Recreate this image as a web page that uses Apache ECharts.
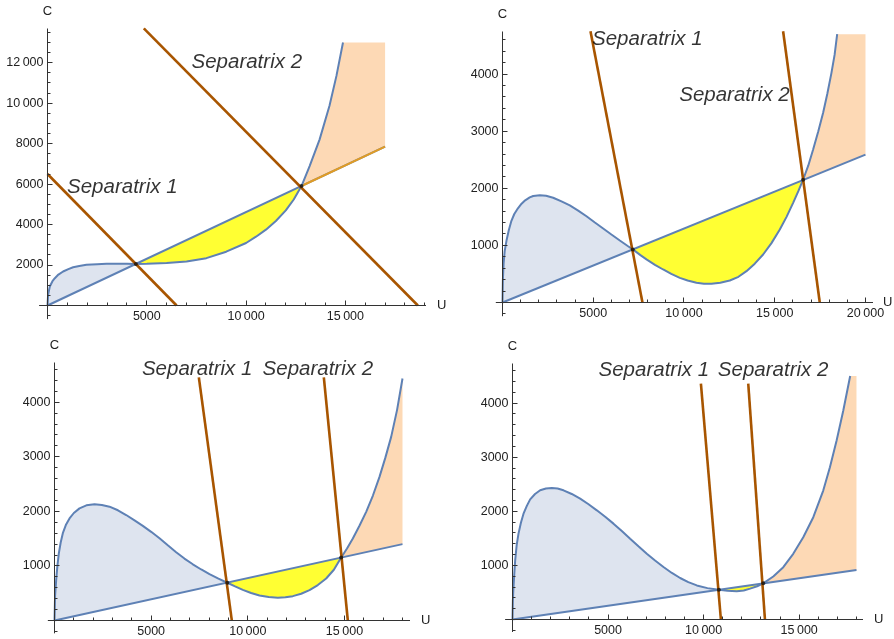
<!DOCTYPE html>
<html><head><meta charset="utf-8">
<script src="https://cdn.jsdelivr.net/npm/echarts@6/dist/echarts.min.js"></script>
<style>html,body{margin:0;padding:0;background:#fff}#c{width:894px;height:639px}</style>
</head><body><div id="c"></div>
<script>
// ---------- Panel 1 (top-left) ----------
const p1U = [0,30,116,250,370,550,785,1050,1290,1600,1960,2500,2970,3500,4000,4450,5000,6000,7000,8000,9000,10000,10500,11000,11500,12000,12400,12790,13200,13700,14200,14550,14880];
const p1C = [0,530,940,1200,1350,1530,1680,1800,1890,1950,2010,2045,2060,2062,2060,2055,2062,2100,2180,2340,2660,3090,3400,3750,4180,4700,5240,5906,6890,8200,9870,11350,13000];
const p1LineU = [0, 17000];
const p1LineC = [0, 7850];
const p1Sep1U = [0, 6500];
const p1Sep1C = [6500, 0];
const p1Sep2U = [4850, 18650];
const p1Sep2C = [13700, 0];
const p1CrossU = [4450, 12790];
const p1CrossC = [2055, 5906];
const p1Cap = 13000;
const p1XTicks = [5000, 10000, 15000];
const p1YTicks = [2000, 4000, 6000, 8000, 10000, 12000];
const p1XMinorStep = 1000;
const p1YMinorStep = 500;
const p1NoteText = ['Separatrix 1', 'Separatrix 2'];
const p1NoteU = [3766, 10035];
const p1NoteC = [5853, 12032];

// ---------- Panel 2 (top-right) ----------
const p2U = [0,20,60,120,230,350,480,650,850,1050,1250,1500,1690,2057,2400,2791,3250,3709,4170,4627,5090,5546,6000,6464,6900,7180,7600,7933,8400,8851,9300,9770,10200,10688,11100,11514,12000,12524,13000,13442,13900,14360,14820,15279,15650,16013,16300,16564,16850,17115,17400,17666,17900,18125,18300,18440];
const p2C = [0,380,680,900,1100,1270,1420,1550,1650,1730,1790,1840,1865,1880,1868,1835,1770,1700,1610,1510,1400,1295,1190,1085,990,930,830,755,660,578,500,432,385,345,330,327,345,385,450,549,680,841,1040,1278,1500,1745,1950,2150,2400,2680,3000,3322,3660,4022,4340,4700];
const p2LineU = [0, 20000];
const p2LineC = [0, 2590];
const p2Sep1U = [4848, 7712];
const p2Sep1C = [4751, 0];
const p2Sep2U = [15461, 17481];
const p2Sep2C = [4751, 0];
const p2CrossU = [7180, 16564];
const p2CrossC = [930, 2150];
const p2Cap = 4700;
const p2XTicks = [5000, 10000, 15000, 20000];
const p2YTicks = [1000, 2000, 3000, 4000];
const p2XMinorStep = 1000;
const p2YMinorStep = 200;
const p2NoteText = ['Separatrix 1', 'Separatrix 2'];
const p2NoteU = [7978, 12782];
const p2NoteC = [4611, 3620];

// ---------- Panel 3 (bottom-left) ----------
const p3U = [0,30,86,150,224,320,431,600,776,1000,1293,1650,2069,2450,2845,3280,3707,4140,4569,5000,5431,5860,6293,6720,7155,7590,8017,8480,8940,9340,9741,10170,10603,11080,11552,11940,12328,12760,13190,13620,14052,14450,14828,15130,15431,15780,16121,16470,16810,17110,17414,17720,18000];
const p3C = [0,450,740,1000,1230,1430,1600,1760,1870,1970,2055,2110,2130,2115,2086,2020,1933,1835,1735,1625,1506,1378,1252,1135,1030,935,850,768,692,625,562,503,458,430,418,425,446,490,556,650,770,930,1155,1320,1503,1740,1991,2290,2632,2980,3365,3860,4434];
const p3LineU = [0, 18000];
const p3LineC = [0, 1400];
const p3Sep1U = [7466, 9172];
const p3Sep1C = [4456, 0];
const p3Sep2U = [13931, 15172];
const p3Sep2C = [4456, 0];
const p3CrossU = [8940, 14828];
const p3CrossC = [692, 1155];
const p3Cap = 4500;
const p3XTicks = [5000, 10000, 15000];
const p3YTicks = [1000, 2000, 3000, 4000];
const p3XMinorStep = 1000;
const p3YMinorStep = 200;
const p3NoteText = ['Separatrix 1', 'Separatrix 2'];
const p3NoteU = [7381, 13620];
const p3NoteC = [4609, 4609];

// ---------- Panel 4 (bottom-right) ----------
const p4U = [0,20,52,95,140,220,314,440,576,750,924,1180,1447,1750,2058,2360,2668,3100,3540,3980,4412,4850,5284,5720,6156,6590,7028,7460,7900,8340,8772,9200,9644,10200,10800,11250,11736,12100,12434,12800,13120,13645,14170,14690,15215,15740,16260,16610,16960,17310,17670];
const p4C = [0,350,600,850,1094,1380,1587,1790,1956,2100,2221,2320,2388,2420,2431,2420,2388,2320,2234,2130,2018,1900,1772,1635,1494,1355,1217,1090,970,860,767,690,630,580,548,530,521,535,570,615,668,795,967,1214,1521,1891,2384,2815,3309,3863,4500];
const p4LineU = [0, 18000];
const p4LineC = [0, 915];
const p4Sep1U = [9859, 10905];
const p4Sep1C = [4360, 0];
const p4Sep2U = [12336, 13210];
const p4Sep2C = [4360, 0];
const p4CrossU = [10800, 13120];
const p4CrossC = [548, 668];
const p4Cap = 4500;
const p4XTicks = [5000, 10000, 15000];
const p4YTicks = [1000, 2000, 3000, 4000];
const p4XMinorStep = 1000;
const p4YMinorStep = 200;
const p4NoteText = ['Separatrix 1', 'Separatrix 2'];
const p4NoteU = [7394, 13637];
const p4NoteC = [4606, 4606];

// ---------- assemble ----------
const panels = [
  {U:p1U, C:p1C, lineU:p1LineU, lineC:p1LineC, s1U:p1Sep1U, s1C:p1Sep1C, s2U:p1Sep2U, s2C:p1Sep2C, xU:p1CrossU, xC:p1CrossC, cap:p1Cap, xt:p1XTicks, yt:p1YTicks, xm:p1XMinorStep, ym:p1YMinorStep, nT:p1NoteText, nU:p1NoteU, nC:p1NoteC, orangeTail:true},
  {U:p2U, C:p2C, lineU:p2LineU, lineC:p2LineC, s1U:p2Sep1U, s1C:p2Sep1C, s2U:p2Sep2U, s2C:p2Sep2C, xU:p2CrossU, xC:p2CrossC, cap:p2Cap, xt:p2XTicks, yt:p2YTicks, xm:p2XMinorStep, ym:p2YMinorStep, nT:p2NoteText, nU:p2NoteU, nC:p2NoteC},
  {U:p3U, C:p3C, lineU:p3LineU, lineC:p3LineC, s1U:p3Sep1U, s1C:p3Sep1C, s2U:p3Sep2U, s2C:p3Sep2C, xU:p3CrossU, xC:p3CrossC, cap:p3Cap, xt:p3XTicks, yt:p3YTicks, xm:p3XMinorStep, ym:p3YMinorStep, nT:p3NoteText, nU:p3NoteU, nC:p3NoteC},
  {U:p4U, C:p4C, lineU:p4LineU, lineC:p4LineC, s1U:p4Sep1U, s1C:p4Sep1C, s2U:p4Sep2U, s2C:p4Sep2C, xU:p4CrossU, xC:p4CrossC, cap:p4Cap, xt:p4XTicks, yt:p4YTicks, xm:p4XMinorStep, ym:p4YMinorStep, nT:p4NoteText, nU:p4NoteU, nC:p4NoteC}
];

// layout: grid box spans from the origin (0,0) to (xMax,yMax); axis lines extend to xMin / yMin
const layouts = [
  {left:47.5, top:28.5, width:378.5, height:277, xMax:19060, yMax:13693, xMin:-423, yMin:-672, uGap:11},
  {left:502.5, top:31.5, width:370.5, height:271, xMax:20414, yMax:4746, xMin:-369, yMin:-240, uGap:10},
  {left:54.5, top:362.5, width:355.5, height:258, xMax:18388, yMax:4728, xMin:-345, yMin:-235, uGap:11},
  {left:512.5, top:363.5, width:350.5, height:256, xMax:18341, yMax:4732, xMin:-386, yMin:-231, uGap:11}
];

const FONT = '"Liberation Sans", Arial, sans-serif';
const AX = '#333';
const BLUE = '#5E81B5', ORANGE = '#E19C24', BROWN = '#A85500';
const FILLS = ['#DEE4EF', '#FFFF33', '#FDD9B5'];
const MAJOR_LEN = 5, MINOR_LEN = 3;

function pairs(u, c) { return u.map((x, i) => [x, c[i]]); }
function fmt(v) { return v >= 10000 ? String(v).replace(/(\d)(?=(\d{3})+$)/g, '$1\u2009') : String(v); }
function snap(v) { return Math.round(v - 0.5) + 0.5; }
function minorValues(lo, hi, step, majors) {
  const out = [];
  const start = Math.ceil(lo / step) * step;
  for (let v = start; v <= hi; v += step) {
    if (v !== 0 && majors.indexOf(v) < 0) out.push(v);
  }
  return out;
}

function regionPoints(p, r) {
  const pts = pairs(p.U, p.C);
  const a = p.xU[0], b = p.xU[1];
  if (r === 0) return pts.filter(q => q[0] <= a);
  if (r === 1) return pts.filter(q => q[0] >= a && q[0] <= b);
  const out = pts.filter(q => q[0] >= b);
  const endU = p.lineU[1];
  const last = out[out.length - 1];
  if (last[0] < endU && last[1] >= p.cap) out.push([endU, p.cap]);
  out.push([endU, p.lineC[1]]);
  return out;
}

const option = {animation:false, backgroundColor:'#fff', grid:[], xAxis:[], yAxis:[], series:[]};

panels.forEach((p, i) => {
  const L = layouts[i];
  option.grid.push({left:L.left, top:L.top, width:L.width, height:L.height, containLabel:false, outerBoundsMode:'none'});
  const common = {
    type:'value', gridIndex:i, splitLine:{show:false},
    axisLine:{show:false, onZero:false},
    axisTick:{show:false}, minorTick:{show:false},
    nameMoveOverlap:false,
    nameTextStyle:{fontSize:13, color:'#222', fontFamily:FONT}
  };
  option.xAxis.push(Object.assign({}, common, {
    min:0, max:L.xMax, position:'bottom', name:'U', nameLocation:'end', nameGap:L.uGap,
    axisLabel:{customValues:p.xt, formatter:fmt, margin:5, fontSize:12.5, color:'#222', fontFamily:FONT}
  }));
  option.yAxis.push(Object.assign({}, common, {
    min:0, max:L.yMax, position:'left', name:'C', nameLocation:'end', nameGap:11,
    axisLabel:{customValues:p.yt, formatter:fmt, margin:4, fontSize:12.5, color:'#222', fontFamily:FONT}
  }));

  // filled regions
  option.series.push({
    type:'custom', xAxisIndex:i, yAxisIndex:i, z:1, silent:true,
    data:[[0,0],[0,0],[0,0]],
    renderItem:function (params, api) {
      const r = params.dataIndex;
      const pts = regionPoints(p, r).map(q => api.coord(q));
      return {type:'polygon', shape:{points:pts}, style:{fill:FILLS[r], stroke:null}};
    }
  });
  // straight line
  option.series.push({type:'line', xAxisIndex:i, yAxisIndex:i, z:2, data:pairs(p.lineU, p.lineC), showSymbol:false, silent:true, lineStyle:{color:BLUE, width:2}});
  if (p.orangeTail) {
    option.series.push({type:'line', xAxisIndex:i, yAxisIndex:i, z:2, data:[[p.xU[1], p.xC[1]], [p.lineU[1], p.lineC[1]]], showSymbol:false, silent:true, lineStyle:{color:ORANGE, width:2}});
  }
  // curve
  option.series.push({type:'line', xAxisIndex:i, yAxisIndex:i, z:3, data:pairs(p.U, p.C), showSymbol:false, silent:true, lineStyle:{color:BLUE, width:2}});
  // separatrices
  [[p.s1U, p.s1C], [p.s2U, p.s2C]].forEach(s => {
    option.series.push({type:'line', xAxisIndex:i, yAxisIndex:i, z:4, data:pairs(s[0], s[1]), showSymbol:false, silent:true, lineStyle:{color:BROWN, width:2.6}});
  });
  // crossing points
  option.series.push({type:'scatter', xAxisIndex:i, yAxisIndex:i, z:5, data:pairs(p.xU, p.xC), symbolSize:4, itemStyle:{color:'#111'}, silent:true});
  // annotations
  option.series.push({type:'scatter', xAxisIndex:i, yAxisIndex:i, z:6, silent:true, symbolSize:1,
    itemStyle:{color:'rgba(0,0,0,0)'},
    data:p.nT.map((t, k) => ({name:t, value:[p.nU[k], p.nC[k]]})),
    label:{show:true, position:'inside', formatter:q => q.name, fontSize:20.5, fontStyle:'italic', color:'#000', fontFamily:FONT}
  });
  // Mathematica-style axes: lines through the origin, inward major/minor ticks
  const xMinor = minorValues(L.xMin, L.xMax, p.xm, p.xt);
  const yMinor = minorValues(L.yMin, L.yMax, p.ym, p.yt);
  option.series.push({
    type:'custom', xAxisIndex:i, yAxisIndex:i, z:8, silent:true, clip:false,
    data:[[0,0]],
    renderItem:function (params, api) {
      const o = api.coord([0, 0]);
      const ox = snap(o[0]), oy = snap(o[1]);
      const x0 = api.coord([L.xMin, 0])[0], x1 = api.coord([L.xMax, 0])[0];
      const y0 = api.coord([0, L.yMin])[1], y1 = api.coord([0, L.yMax])[1];
      const st = {stroke:AX, lineWidth:1};
      const ch = [
        {type:'line', shape:{x1:x0, y1:oy, x2:x1, y2:oy}, style:st},
        {type:'line', shape:{x1:ox, y1:y0, x2:ox, y2:y1}, style:st}
      ];
      p.xt.forEach(v => { const x = snap(api.coord([v, 0])[0]); ch.push({type:'line', shape:{x1:x, y1:oy, x2:x, y2:oy - MAJOR_LEN}, style:st}); });
      xMinor.forEach(v => { const x = snap(api.coord([v, 0])[0]); ch.push({type:'line', shape:{x1:x, y1:oy, x2:x, y2:oy - MINOR_LEN}, style:st}); });
      p.yt.forEach(v => { const y = snap(api.coord([0, v])[1]); ch.push({type:'line', shape:{x1:ox, y1:y, x2:ox + MAJOR_LEN, y2:y}, style:st}); });
      yMinor.forEach(v => { const y = snap(api.coord([0, v])[1]); ch.push({type:'line', shape:{x1:ox, y1:y, x2:ox + MINOR_LEN, y2:y}, style:st}); });
      return {type:'group', children:ch};
    }
  });
});

const chart = echarts.init(document.getElementById('c'), null, {renderer:'canvas'});
chart.setOption(option);
</script></body></html>
